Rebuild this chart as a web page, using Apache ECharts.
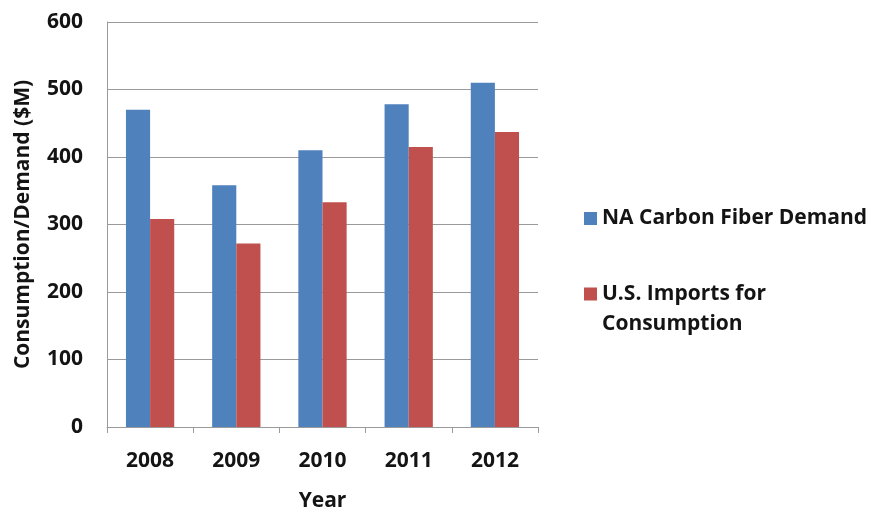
<!DOCTYPE html>
<html>
<head>
<meta charset="utf-8">
<script src="https://cdn.jsdelivr.net/npm/echarts@6/dist/echarts.min.js"></script>
<style>
  html, body { margin: 0; padding: 0; background: #fff; }
  #chart { width: 872px; height: 512px; }
</style>
</head>
<body>
<div id="chart"></div>
<script>
// Carbon fiber market: North American demand vs. U.S. imports, in $M
const years = ['2008', '2009', '2010', '2011', '2012'];
const naDemand = [470, 358, 410, 478, 510];
const usImports = [308, 272, 333, 415, 437];
const yTicks = { min: 0, max: 600, interval: 100 };

const FONT = 'Open Sans';
const SIZE = 21;
const INK = '#141414';
const chart = echarts.init(document.getElementById('chart'), null, { renderer: 'canvas' });

chart.setOption({
  animation: false,
  backgroundColor: '#ffffff',
  textStyle: { fontFamily: FONT },
  grid: { left: 107, right: 334, top: 22, bottom: 85, outerBoundsMode: 'none' },
  legend: [
    {
      data: ['NA Carbon Fiber Demand'],
      left: 579, top: 203,
      itemWidth: 13, itemHeight: 13, itemGap: 8,
      icon: 'rect',
      textStyle: { fontFamily: FONT, fontWeight: 'bold', fontSize: SIZE, color: INK }
    },
    {
      data: ['U.S. Imports for Consumption'],
      left: 579, top: 244,
      itemWidth: 13, itemHeight: 13, itemGap: 8,
      icon: 'rect',
      // leading blank line keeps the swatch level with the first text line
      formatter: () => '\nU.S. Imports for\nConsumption',
      textStyle: { fontFamily: FONT, fontWeight: 'bold', fontSize: SIZE, color: INK, lineHeight: 30 }
    }
  ],
  xAxis: {
    type: 'category',
    data: years,
    name: 'Year',
    nameLocation: 'middle',
    nameGap: 64,
    nameTextStyle: { fontFamily: FONT, fontWeight: 'bold', fontSize: SIZE, color: INK },
    axisLine: { lineStyle: { color: '#9a9a9a', width: 1 } },
    axisTick: { show: true, length: 6, alignWithLabel: false, lineStyle: { color: '#9a9a9a' } },
    axisLabel: { fontFamily: FONT, fontWeight: 'bold', fontSize: SIZE, color: INK, margin: 24 }
  },
  yAxis: {
    type: 'value',
    min: yTicks.min, max: yTicks.max, interval: yTicks.interval,
    name: 'Consumption/Demand ($M)',
    nameLocation: 'middle',
    nameGap: 73,
    nameRotate: 90,
    nameTextStyle: { fontFamily: FONT, fontWeight: 'bold', fontSize: SIZE, color: INK },
    axisLine: { show: true, lineStyle: { color: '#9a9a9a', width: 1 } },
    axisTick: { show: false },
    splitLine: { lineStyle: { color: '#9a9a9a', width: 1 } },
    axisLabel: { fontFamily: FONT, fontWeight: 'bold', fontSize: SIZE, color: INK, margin: 24 }
  },
  series: [
    {
      name: 'NA Carbon Fiber Demand',
      type: 'bar',
      data: naDemand,
      barGap: '0%',
      barCategoryGap: '44%',
      itemStyle: { color: '#4F81BD' }
    },
    {
      name: 'U.S. Imports for Consumption',
      type: 'bar',
      data: usImports,
      itemStyle: { color: '#C0504D' }
    }
  ]
});
</script>
</body>
</html>
